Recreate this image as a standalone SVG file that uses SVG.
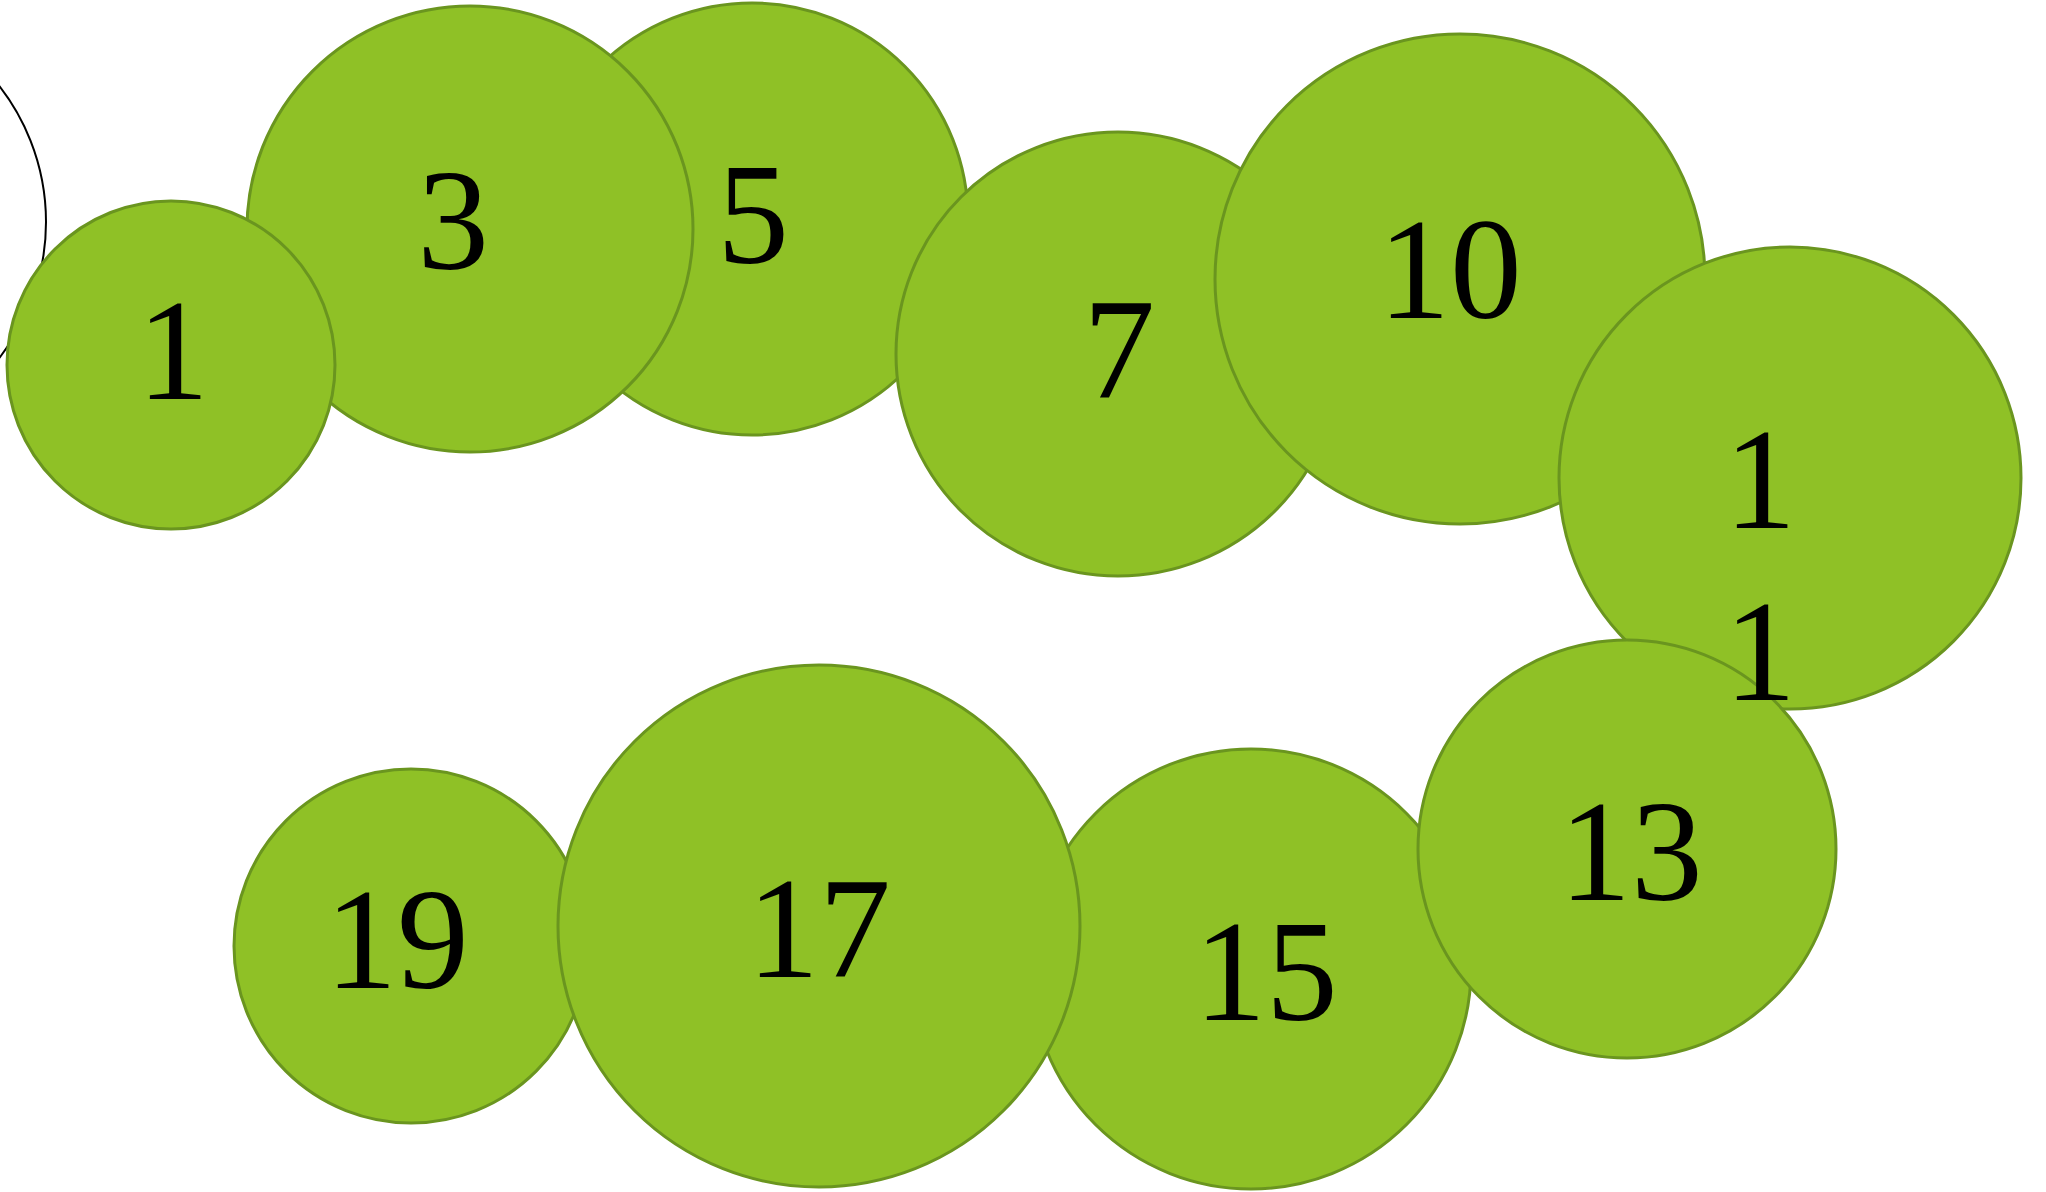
<svg xmlns="http://www.w3.org/2000/svg" width="2046" height="1192" viewBox="0 0 2046 1192">
<style>
.n{fill:#8fc126;stroke:#6a951f;stroke-width:3}
.t{font-family:'Liberation Serif',serif;font-size:143.5px;fill:#000;text-anchor:middle}
.o{fill:none;stroke:#000;stroke-width:2}
</style>
<rect width="2046" height="1192" fill="#fff"/>
<g id="connectors"></g>
<g id="outline-circle"><circle class="o" cx="-175" cy="222" r="221"/></g>
<g id="node-5"><circle class="n" cx="752" cy="219" r="216"/><text class="t" x="753" y="263">5</text></g>
<g id="node-3"><circle class="n" cx="470" cy="229" r="223"/><text class="t" x="453" y="269">3</text></g>
<g id="node-1"><circle class="n" cx="171" cy="365" r="164"/><text class="t" x="173" y="399">1</text></g>
<g id="node-7"><circle class="n" cx="1118" cy="354" r="222"/><text class="t" x="1119" y="398">7</text></g>
<g id="node-10"><circle class="n" cx="1460" cy="279" r="245"/><text class="t" x="1450" y="318">10</text></g>
<g id="node-11"><circle class="n" cx="1790" cy="478" r="231"/></g>
<g id="node-15"><circle class="n" cx="1251" cy="969" r="220"/><text class="t" x="1266" y="1020">15</text></g>
<g id="node-13"><circle class="n" cx="1627" cy="849" r="209"/><text class="t" x="1631" y="900">13</text></g>
<g id="node-19"><circle class="n" cx="411" cy="946" r="177"/><text class="t" x="397" y="988">19</text></g>
<g id="node-17"><circle class="n" cx="819" cy="926" r="261"/><text class="t" x="819" y="977">17</text></g>
<g id="node-11-label"><text class="t" x="1760" y="528">1</text><text class="t" x="1760" y="700">1</text></g>
</svg>
